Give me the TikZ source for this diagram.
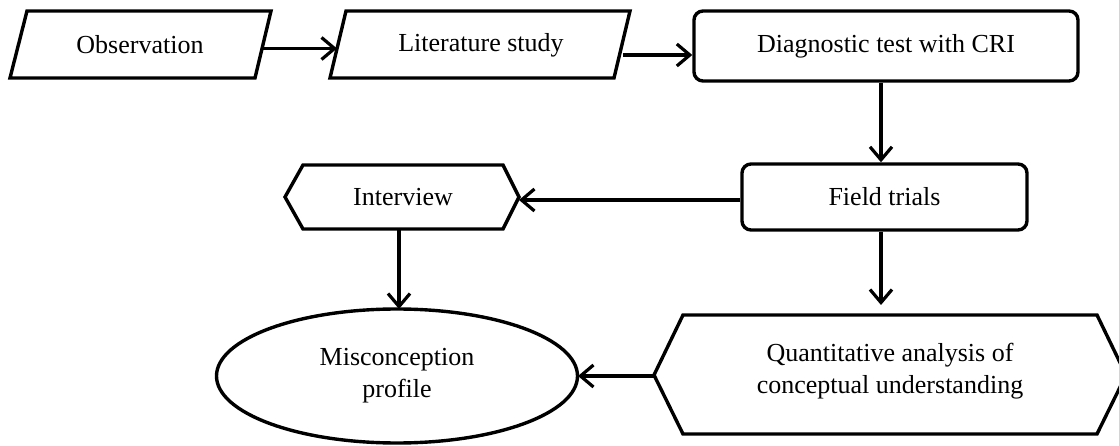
\documentclass[tikz,border=0pt]{standalone}
\usepackage{fontspec}
\setmainfont{Liberation Serif}
\usetikzlibrary{arrows.meta,shapes.geometric}
\tikzset{
  shp/.style={line width=3.4pt, line join=miter, draw=black},
  lbl/.style={font=\fontsize{26}{32}\selectfont, align=center, inner sep=0pt},
  rbox/.style={shp, rounded corners=9pt, rectangle, lbl},
  arr/.style={line width=3.2pt, -{Straight Barb[length=13pt,width=22pt,line width=3.2pt]}}
}
\begin{document}
\begin{tikzpicture}[x=1pt,y=-1pt]
\useasboundingbox (0,0) rectangle (1119,446);
% Observation (parallelogram)
\node[lbl] (obs) at (140,45) {Observation};
\draw[shp] (27,11) -- (271,11) -- (255,78) -- (10,78) -- cycle;
\coordinate (obsR) at (263,48.5);
% Literature study
\node[lbl] (lit) at (481,45) {Literature study};
\draw[shp] (346,11) -- (630,11) -- (614,78) -- (330,78) -- cycle;
\coordinate (litL) at (337,48.5);
\coordinate (litR) at (623,55);
% Diagnostic test
\node[rbox, minimum width=384pt, minimum height=70pt] (diag) at (886,46) {Diagnostic test with CRI};
% Field trials
\node[rbox, minimum width=285pt, minimum height=66pt] (field) at (884.5,197) {Field trials};
% Interview (hexagon)
\node[lbl] (intv) at (403,197) {Interview};
\draw[shp] (285,197) -- (303,165) -- (503,165) -- (519,197) -- (503,229) -- (303,229) -- cycle;
\coordinate (intvR) at (519,200);
\coordinate (intvB) at (399,229);
% Misconception profile
\node[shp, ellipse, lbl, minimum width=361pt, minimum height=134pt] (misc) at (397,376) {Misconception\\profile};
\coordinate (miscT) at (399,309);
\coordinate (miscR) at (578,376);
% Quantitative analysis (hexagon)
\node[lbl] (quant) at (890,371) {Quantitative analysis of\\conceptual understanding};
\draw[shp] (654,375) -- (683,315) -- (1097,315) -- (1126,375) -- (1097,434) -- (683,434) -- cycle;
\coordinate (quantL) at (654,376);
\coordinate (quantT) at (881,305);
% connectors
\draw[arr] (obsR) -- (litL);
\draw[arr] (litR) -- (diag.west |- litR);
\draw[arr] (diag.south -| 881,0) -- (field.north -| 881,0);
\draw[arr] (field.west |- intvR) -- (intvR);
\draw[arr] (intvB) -- (miscT);
\draw[arr] (field.south -| quantT) -- (quantT);
\draw[arr] (quantL) -- (miscR);
\end{tikzpicture}
\end{document}
